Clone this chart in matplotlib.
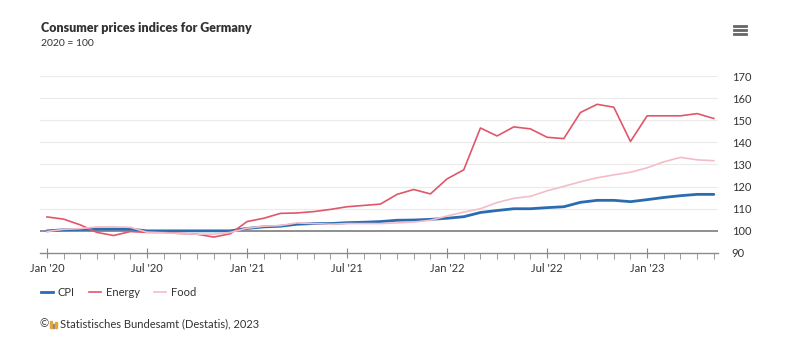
import numpy as np
import matplotlib.pyplot as plt
from matplotlib.lines import Line2D
from matplotlib.patches import Rectangle

plt.rcParams['font.family'] = ['Lato', 'DejaVu Sans']

## DATA (monthly, Jan 2020 - May 2023, 2020 = 100)
cpi = [100.0, 100.5, 100.6, 100.8, 100.8, 100.8, 100.0, 100.0, 100.0, 100.0, 100.0, 100.0,
       101.1, 101.8, 102.1, 103.0, 103.3, 103.3, 103.7, 103.9, 104.2, 104.8, 104.9, 105.2,
       105.7, 106.4, 108.3, 109.2, 110.0, 110.0, 110.5, 110.9, 112.9, 113.8, 113.8, 113.2,
       114.1, 115.1, 115.9, 116.5, 116.5]
energy = [106.3, 105.3, 102.7, 99.3, 97.9, 99.7, 99.3, 99.3, 98.8, 98.5, 97.2, 98.7,
          104.2, 105.7, 107.9, 108.1, 108.7, 109.7, 110.9, 111.5, 112.1, 116.5, 118.7, 116.7,
          123.5, 127.6, 146.5, 142.9, 147.0, 146.1, 142.3, 141.7, 153.5, 157.2, 155.9, 140.4,
          152.0, 152.0, 152.0, 153.0, 150.8]
food = [99.7, 100.7, 101.0, 101.8, 101.8, 101.6, 99.4, 99.1, 98.8, 98.5, 98.5, 99.3,
        101.2, 102.1, 102.4, 103.6, 103.3, 103.0, 103.3, 103.3, 103.3, 103.6, 104.0, 104.8,
        106.7, 108.5, 110.0, 112.8, 114.7, 115.6, 118.1, 120.1, 122.2, 124.0, 125.3, 126.5,
        128.5, 131.2, 133.2, 132.1, 131.7]
tick_labels = ["Jan '20", "Jul '20", "Jan '21", "Jul '21", "Jan '22", "Jul '22", "Jan '23"]
y_ticks = [90, 100, 110, 120, 130, 140, 150, 160, 170]

months = np.arange(len(cpi))
c_cpi, c_en, c_food = '#2b6cb0', '#e0566b', '#f5bcc7'
txt = '#333333'

fig = plt.figure(figsize=(8.06, 3.45), dpi=100)
ax = fig.add_axes([0.0496, 0.2667, 0.8412, 0.5130])

ax.set_xlim(-0.42, 40.25)
ax.set_ylim(90, 170)
for v in y_ticks[2:]:
    ax.axhline(v, color='#ebebeb', lw=0.8, zorder=0)
ax.axhline(100, color='#707070', lw=1.1, zorder=1)

ax.plot(months, cpi, color=c_cpi, lw=2.0, zorder=3, solid_capstyle='round')
ax.plot(months, energy, color=c_en, lw=1.2, zorder=4)
ax.plot(months, food, color=c_food, lw=1.2, zorder=5)

for s in ['top', 'left', 'right']:
    ax.spines[s].set_visible(False)
ax.spines['bottom'].set_color('#8a8a8a')
ax.spines['bottom'].set_linewidth(1.0)

ax.set_xticks(np.arange(0, 41, 6))
ax.set_xticklabels(tick_labels)
ax.set_xticks(months, minor=True)
ax.tick_params(axis='x', which='major', direction='inout', length=7, color='#8a8a8a',
               labelsize=8, labelcolor=txt, pad=4)
ax.tick_params(axis='x', which='minor', direction='out', length=4, color='#8a8a8a')

ax.yaxis.tick_right()
ax.set_yticks(y_ticks)
ax.tick_params(axis='y', length=0, labelsize=8, labelcolor=txt, pad=10)

# title
fig.text(41 / 806, 1 - 28 / 345, 'Consumer prices indices for Germany', fontsize=9,
         fontweight='heavy', color=txt, va='center')
fig.text(41 / 806, 1 - 43 / 345, '2020 = 100', fontsize=7.5, color=txt, va='center')

# menu icon
for yy in [26, 30, 34]:
    fig.add_artist(Line2D([734 / 806, 746 / 806], [1 - yy / 345] * 2, color='#666666', lw=2.0))

# legend
leg = [('CPI', c_cpi, 41, 2.0), ('Energy', c_en, 89, 1.2), ('Food', c_food, 154, 1.2)]
for name, col, x0, lw in leg:
    fig.add_artist(Line2D([x0 / 806, (x0 + 12) / 806], [1 - 292 / 345] * 2, color=col, lw=lw))
    fig.text((x0 + 17) / 806, 1 - 292 / 345, name, fontsize=8, color=txt, va='center')

# source
fig.text(40 / 806, 1 - 324 / 345, '©', fontsize=8, color=txt, va='center')
fig.add_artist(Rectangle((50 / 806, 1 - 328 / 345), 1.5 / 806, 7 / 345, color='#e3a63a'))
fig.add_artist(Rectangle((52.5 / 806, 1 - 328 / 345), 1.5 / 806, 4 / 345, color='#888888'))
fig.add_artist(Rectangle((55 / 806, 1 - 328 / 345), 1.5 / 806, 6 / 345, color='#e3a63a'))
fig.text(60 / 806, 1 - 324 / 345, 'Statistisches Bundesamt (Destatis), 2023', fontsize=8,
         color=txt, va='center')

fig.savefig('out.png', dpi=100, facecolor='white')
